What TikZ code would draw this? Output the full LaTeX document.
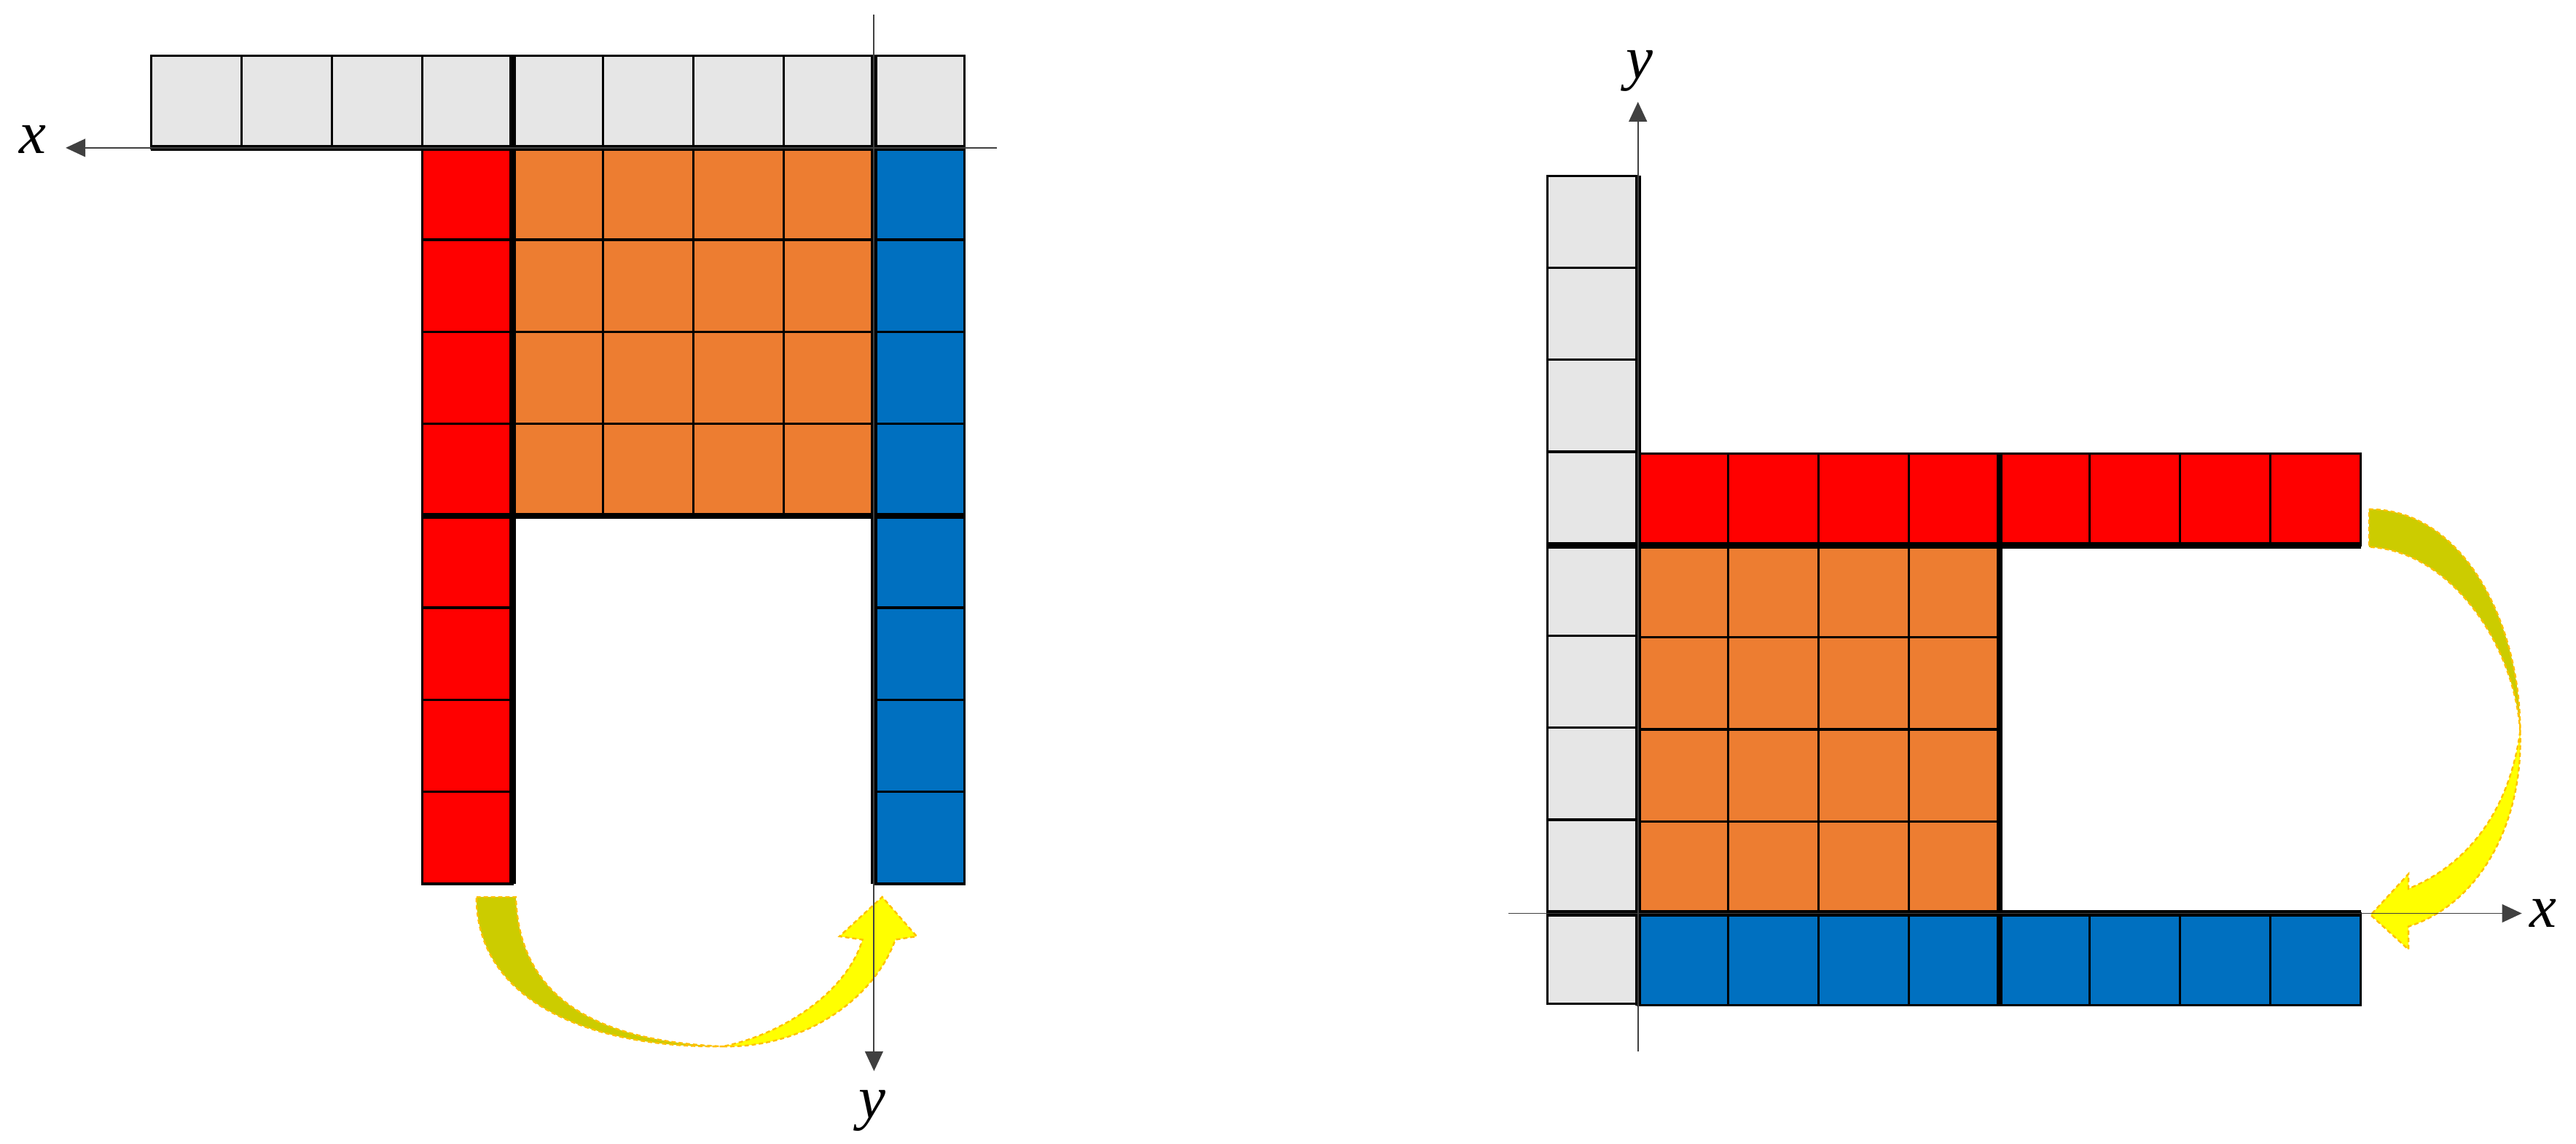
\documentclass[tikz,border=0pt]{standalone}
\usepackage{fontspec}
\setmainfont{Liberation Serif}
\usetikzlibrary{arrows.meta}
\definecolor{cgray}{HTML}{E6E6E6}
\definecolor{cred}{HTML}{FF0000}
\definecolor{corange}{HTML}{ED7D31}
\definecolor{cblue}{HTML}{0070C0}
\definecolor{colive}{HTML}{CCCC00}
\definecolor{cyellow}{HTML}{FFFF00}
\definecolor{cdash}{HTML}{FFC000}
\begin{document}
\begin{tikzpicture}[x=0.02cm,y=-0.02cm,
  cellline/.style={line width=0.85pt, draw=black},
  thickline/.style={line width=2.1pt, black},
  axisline/.style={line width=0.5pt, black!75, -{Triangle[length=0.24cm,width=0.22cm]}},
  lbl/.style={font=\fontsize{21}{24}\selectfont\itshape, inner sep=0pt},
  bandA/.style={fill=colive, draw=cdash, dashed, line width=0.6pt, dash pattern=on 1.5pt off 1pt},
  bandB/.style={fill=cyellow, draw=cdash, dashed, line width=0.6pt, dash pattern=on 1.5pt off 1pt}]
\useasboundingbox (0,0) rectangle (1568,696);

% ================= LEFT FIGURE =================
% gray row
\foreach \i in {0,...,8}
  \draw[cellline, fill=cgray] ({92+55*\i},34) rectangle ++(55,56);
% red column
\foreach \j in {0,...,7}
  \draw[cellline, fill=cred] (257,{90+56*\j}) rectangle ++(55,56);
% blue column
\foreach \j in {0,...,7}
  \draw[cellline, fill=cblue] (532,{90+56*\j}) rectangle ++(55,56);
% orange block
\foreach \i in {0,...,3}
  \foreach \j in {0,...,3}
    \draw[cellline, fill=corange] ({312+55*\i},{90+56*\j}) rectangle ++(55,56);
% thick block borders
\draw[thickline] (92,90) -- (587,90);
\draw[thickline] (312,34) -- (312,538);
\draw[thickline] (532,34) -- (532,538);
\draw[thickline] (257,314) -- (587,314);

% yellow curved arrow (left)
\path[bandA] (290,546) -- (314,546)
  .. controls (316,612) and (370,634) .. (440,637)
  .. controls (360,638) and (290,610) .. (290,546) -- cycle;
\path[bandB] (440,637)
  .. controls (490,638) and (532,608) .. (545,572)
  -- (558,570) -- (537,546) -- (511,570) -- (525,572)
  .. controls (515,605) and (475,630) .. (440,637) -- cycle;

% axes (left)
\coordinate (lxs) at (607,90);
\coordinate (lxe) at (40,90);
\coordinate (lys) at (532,9);
\coordinate (lye) at (532,652);
\draw[axisline] (lxs) -- (lxe);
\draw[axisline] (lys) -- (lye);
\node[lbl] (lxlabel) at (20,85) {x};
\node[lbl] (lylabel) at (531,676) {y};

% ================= RIGHT FIGURE =================
% gray column
\foreach \j in {0,...,8}
  \draw[cellline, fill=cgray] (942,{107+56*\j}) rectangle ++(55,56);
% red row
\foreach \i in {0,...,7}
  \draw[cellline, fill=cred] ({997+55*\i},276) rectangle ++(55,56);
% blue row
\foreach \i in {0,...,7}
  \draw[cellline, fill=cblue] ({997+55*\i},556) rectangle ++(55,56);
% orange block
\foreach \i in {0,...,3}
  \foreach \j in {0,...,3}
    \draw[cellline, fill=corange] ({997+55*\i},{332+56*\j}) rectangle ++(55,56);
% thick block borders
\draw[thickline] (997,107) -- (997,612);
\draw[thickline] (942,332) -- (1437,332);
\draw[thickline] (1217,276) -- (1217,612);
\draw[thickline] (942,556) -- (1437,556);

% yellow curved arrow (right)
\path[bandA] (1442,310)
  .. controls (1500,310) and (1534,380) .. (1534,445)
  .. controls (1530,390) and (1490,335) .. (1442,333) -- cycle;
\path[bandB] (1534,445)
  .. controls (1536,500) and (1510,550) .. (1466,564)
  -- (1466,578) -- (1443,557) -- (1466,532) -- (1466,541)
  .. controls (1505,525) and (1528,490) .. (1534,445) -- cycle;

% axes (right)
\coordinate (rxs) at (918,556);
\coordinate (rxe) at (1535,556);
\coordinate (rys) at (997,640);
\coordinate (rye) at (997,62);
\draw[axisline] (rxs) -- (rxe);
\draw[axisline] (rys) -- (rye);
\node[lbl] (rxlabel) at (1548,556) {x};
\node[lbl] (rylabel) at (998,43) {y};
\end{tikzpicture}
\end{document}
